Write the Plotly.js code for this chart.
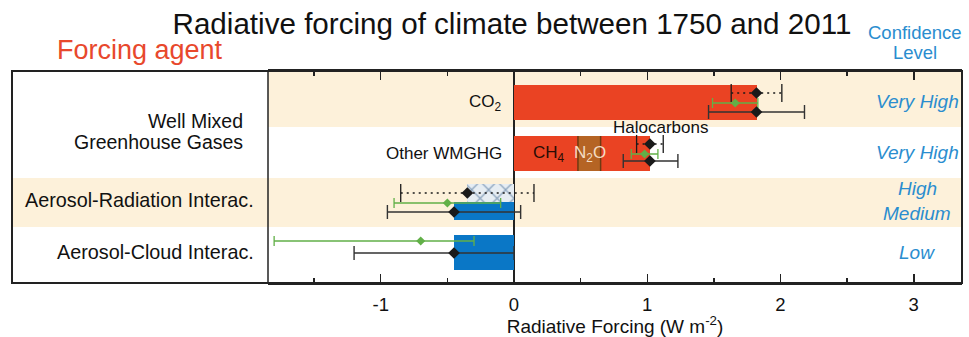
<!DOCTYPE html>
<html>
<head>
<meta charset="utf-8">
<script src="https://cdn.plot.ly/plotly-3.0.1.min.js"></script>
<style>
  html, body { margin: 0; padding: 0; background: #fff; }
  #chart { width: 969px; height: 337px; }
</style>
</head>
<body>
<div id="chart"></div>
<script>
// ---- Data (W m-2) ----
const rowLabels = [['Well Mixed', 'Greenhouse Gases'], 'Aerosol-Radiation Interac.', 'Aerosol-Cloud Interac.'];
const confidence = ['Very High', 'Very High', 'High', 'Medium', 'Low'];

const co2Value = 1.82;
const wmghgParts = [0.48, 0.17, 0.37];          // CH4, N2O, Halocarbons
const wmghgNames = ['CH<sub>4</sub>', 'N<sub>2</sub>O', 'Halocarbons'];
const ariRF = -0.35;                             // hatched bar
const aerosolERF = [-0.45, -0.45];               // aerosol-radiation, aerosol-cloud

// RF best estimates and ranges (dotted): CO2, other WMGHG, aerosol-radiation
const rfBest = [1.82, 1.02, -0.35];
const rfLow  = [1.63, 0.92, -0.85];
const rfHigh = [2.01, 1.12, 0.15];
// ERF best estimates and ranges (solid black): CO2, other WMGHG, aer-rad, aer-cloud
const erfBest = [1.82, 1.02, -0.45, -0.45];
const erfLow  = [1.46, 0.82, -0.95, -1.20];
const erfHigh = [2.18, 1.23, 0.05, 0.00];
// AR4 estimates and ranges (green)
const ar4Best = [1.66, 0.98, -0.50, -0.70];
const ar4Low  = [1.49, 0.88, -0.90, -1.80];
const ar4High = [1.83, 1.08, -0.10, -0.30];

const xTicks = [-1, 0, 1, 2, 3];

// ---- Row geometry (y axis runs 0..212 top to bottom) ----
const ROW = {
  co2Bar: 31.5, wmghgBar: 82.5, ariHatch: 122, ariBar: 140, aciBar: 181.5,
  rfY: [22, 73, 122], ar4Y: [32, 83, 132, 170], erfY: [41, 90, 141, 182],
  bands: [[0, 56, 'data'], [107, 156, 'all']]
};
const FULL = 35, HALF = 18;

const C = {
  red: '#ea4323', brown: '#b56424', blue: '#0a77c6', beige: '#fdf1da',
  green: '#62b048', black: '#1a1a1a', conf: '#2a8dcf', agent: '#e8482c'
};
const FONT = 'Liberation Sans, Arial, Helvetica, sans-serif';
const domainStart = 256 / 950;

const traces = [];

// CO2 bar
traces.push({
  type: 'bar', orientation: 'h', x: [co2Value], base: [0], y: [ROW.co2Bar], width: FULL,
  marker: { color: C.red, line: { width: 0 } }, hoverinfo: 'skip'
});

// Other WMGHG stacked segments
const partColors = [C.red, C.brown, C.red];
let cum = 0;
const partStarts = [];
wmghgParts.forEach((v, i) => {
  partStarts.push(cum);
  traces.push({
    type: 'bar', orientation: 'h', x: [v], base: [cum], y: [ROW.wmghgBar], width: FULL,
    marker: { color: partColors[i], line: { width: 0 } }, hoverinfo: 'skip'
  });
  cum += v;
});

// Aerosol-radiation RF (cross-hatched)
traces.push({
  type: 'bar', orientation: 'h', x: [ariRF], base: [0], y: [ROW.ariHatch], width: HALF,
  marker: {
    color: '#e6edf3', line: { width: 0 },
    pattern: { shape: 'x', fgcolor: '#8ca4bd', bgcolor: '#e6edf3', size: 12, solidity: 0.2 }
  },
  hoverinfo: 'skip'
});

// Aerosol ERF bars (blue)
traces.push({
  type: 'bar', orientation: 'h', x: aerosolERF, base: [0, 0], y: [ROW.ariBar, ROW.aciBar],
  width: [HALF, FULL], marker: { color: C.blue, line: { width: 0 } }, hoverinfo: 'skip'
});

// RF ranges: dotted lines with end caps
const rfX = [], rfYs = [];
rfBest.forEach((b, i) => {
  rfX.push(rfLow[i], rfHigh[i], null);
  rfYs.push(ROW.rfY[i], ROW.rfY[i], null);
});
traces.push({
  type: 'scatter', mode: 'lines+markers', x: rfX, y: rfYs,
  line: { color: C.black, width: 1.3, dash: '2px,4px' },
  marker: { symbol: 'line-ns', size: 13, line: { color: C.black, width: 1.3 } },
  hoverinfo: 'skip'
});
traces.push({
  type: 'scatter', mode: 'markers', x: rfBest, y: ROW.rfY,
  marker: { symbol: 'diamond', size: 9, color: C.black }, hoverinfo: 'skip'
});

// AR4 ranges (green)
traces.push({
  type: 'scatter', mode: 'markers', x: ar4Best, y: ROW.ar4Y,
  marker: { symbol: 'diamond', size: 7, color: C.green },
  error_x: {
    type: 'data', symmetric: false,
    array: ar4Best.map((b, i) => ar4High[i] - b),
    arrayminus: ar4Best.map((b, i) => b - ar4Low[i]),
    color: C.green, thickness: 1.3, width: 5
  },
  hoverinfo: 'skip'
});

// ERF ranges (black)
traces.push({
  type: 'scatter', mode: 'markers', x: erfBest, y: ROW.erfY,
  marker: { symbol: 'diamond', size: 9, color: C.black },
  error_x: {
    type: 'data', symmetric: false,
    array: erfBest.map((b, i) => erfHigh[i] - b),
    arrayminus: erfBest.map((b, i) => b - erfLow[i]),
    color: '#333', thickness: 1.4, width: 7
  },
  hoverinfo: 'skip'
});

// ---- Shapes: row bands, frame, N2O separators ----
const shapes = [];
ROW.bands.forEach(([y0, y1, span]) => {
  shapes.push({
    type: 'rect', layer: 'below', xref: 'paper', yref: 'y',
    x0: span === 'all' ? 0 : domainStart, x1: 1, y0, y1,
    fillcolor: C.beige, line: { width: 0 }
  });
});
[partStarts[1], partStarts[2]].forEach(xv => {
  shapes.push({
    type: 'line', layer: 'above', xref: 'x', yref: 'y',
    x0: xv, x1: xv, y0: ROW.wmghgBar - FULL / 2, y1: ROW.wmghgBar + FULL / 2,
    line: { color: '#6e3a12', width: 1.5 }
  });
});
shapes.push({
  type: 'rect', layer: 'above', xref: 'paper', yref: 'paper', x0: 0, x1: 1, y0: 0, y1: 1,
  line: { color: '#222', width: 2 }, fillcolor: 'rgba(0,0,0,0)'
});
shapes.push({
  type: 'line', layer: 'above', xref: 'paper', yref: 'paper',
  x0: domainStart, x1: domainStart, y0: 0, y1: 1, line: { color: '#222', width: 1.5 }
});

// ---- Annotations ----
const ann = [];
const txt = (o) => ann.push(Object.assign({ showarrow: false, font: { family: FONT, size: 17, color: '#111' } }, o));
const labelFont = { family: FONT, size: 19.8, color: '#111' };

// Row labels on the left
txt({ xref: 'paper', yref: 'y', x: 230 / 950, y: 50, xanchor: 'right', yanchor: 'middle', xshift: 3,
      text: rowLabels[0][0], font: { family: FONT, size: 19.5, color: '#111' } });
txt({ xref: 'paper', yref: 'y', x: 230 / 950, y: 71, xanchor: 'right', yanchor: 'middle', xshift: 3,
      text: rowLabels[0][1], font: { family: FONT, size: 19.5, color: '#111' } });
txt({ xref: 'paper', yref: 'y', x: 241 / 950, y: 129, xanchor: 'right', yanchor: 'middle', xshift: 3,
      text: rowLabels[1], font: labelFont });
txt({ xref: 'paper', yref: 'y', x: 241 / 950, y: 181, xanchor: 'right', yanchor: 'middle', xshift: 3,
      text: rowLabels[2], font: labelFont });

// Labels inside the plot
txt({ xref: 'x', yref: 'y', x: -0.1, y: ROW.co2Bar, xanchor: 'right', yanchor: 'middle', xshift: 3, text: 'CO<sub>2</sub>' });
txt({ xref: 'x', yref: 'y', x: -0.1, y: ROW.wmghgBar, xanchor: 'right', yanchor: 'middle', xshift: 3, text: 'Other WMGHG' });
txt({ xref: 'x', yref: 'y', x: partStarts[0] + wmghgParts[0] / 2, y: ROW.wmghgBar, xanchor: 'center', yanchor: 'middle',
      xshift: 3, text: wmghgNames[0], font: { family: FONT, size: 17, color: '#2a0d05' } });
txt({ xref: 'x', yref: 'y', x: partStarts[1] + wmghgParts[1] / 2, y: ROW.wmghgBar, xanchor: 'center', yanchor: 'middle',
      xshift: 1, text: wmghgNames[1], font: { family: FONT, size: 17, color: '#f4dcc3' } });
txt({ xref: 'x', yref: 'y', x: 1.1, y: 56, xanchor: 'center', yanchor: 'middle', text: wmghgNames[2] });

// Confidence levels on the right
const confY = [30, 81, 117, 142, 181];
confidence.forEach((c, i) => {
  txt({ xref: 'paper', yref: 'y', x: 905 / 950, y: confY[i], xanchor: 'center', yanchor: 'middle',
        text: '<i>' + c + '</i>', font: { family: FONT, size: 19, color: C.conf } });
});

// Headers above the frame
txt({ xref: 'paper', yref: 'paper', x: 127.5 / 950, y: 233 / 212, xanchor: 'center', yanchor: 'middle',
      text: 'Forcing agent', font: { family: FONT, size: 27, color: C.agent } });
txt({ xref: 'paper', yref: 'paper', x: 903 / 950, y: 250 / 212, xanchor: 'center', yanchor: 'middle',
      text: 'Confidence', font: { family: FONT, size: 18.5, color: C.conf } });
txt({ xref: 'paper', yref: 'paper', x: 903 / 950, y: 230 / 212, xanchor: 'center', yanchor: 'middle',
      text: 'Level', font: { family: FONT, size: 18.5, color: C.conf } });

const layout = {
  width: 969, height: 337,
  margin: { l: 12, r: 7, t: 71, b: 54, pad: 0 },
  paper_bgcolor: '#fff', plot_bgcolor: '#fff',
  showlegend: false, barmode: 'overlay', bargap: 0,
  title: {
    text: 'Radiative forcing of climate between 1750 and 2011',
    font: { family: FONT, size: 29.6, color: '#111' },
    x: 512 / 969, xanchor: 'center', y: 1 - 24 / 337, yanchor: 'middle'
  },
  xaxis: {
    domain: [domainStart, 1], range: [-1.846, 3.362],
    tickmode: 'array', tickvals: xTicks, ticktext: xTicks.map(String),
    ticks: 'inside', ticklen: 9, tickwidth: 1.5, tickcolor: '#222',
    minor: { dtick: 0.5, ticks: 'inside', ticklen: 5, tickwidth: 1.5, tickcolor: '#222', showgrid: false },
    showline: true, linecolor: '#222', linewidth: 2, mirror: 'ticks',
    zeroline: true, zerolinecolor: '#222', zerolinewidth: 1.3,
    showgrid: false, fixedrange: true,
    ticklabelstandoff: 4,
    tickfont: { family: FONT, size: 18.5, color: '#111' },
    title: { text: 'Radiative Forcing (W m<sup>-2</sup>)', font: { family: FONT, size: 19, color: '#111' }, standoff: 0 }
  },
  yaxis: { range: [212, 0], visible: false, fixedrange: true, showgrid: false, zeroline: false },
  shapes: shapes,
  annotations: ann
};

Plotly.newPlot('chart', traces, layout, { displayModeBar: false, staticPlot: true });
</script>
</body>
</html>
